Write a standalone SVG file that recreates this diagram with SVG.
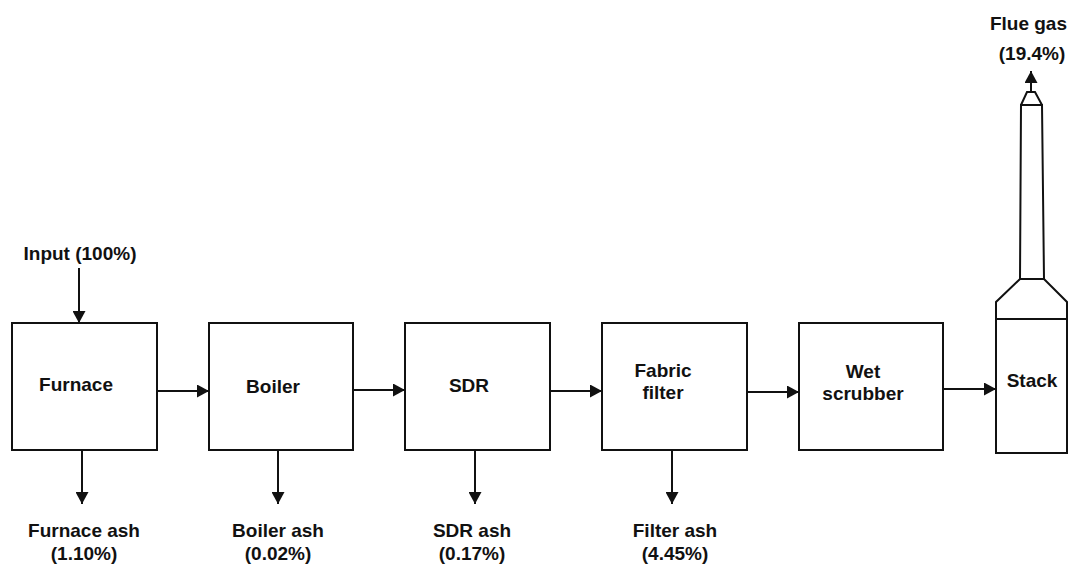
<svg xmlns="http://www.w3.org/2000/svg" width="1069" height="564" viewBox="0 0 1069 564">
<style>
.box{fill:#fff;stroke:#111;stroke-width:2}
.ln{fill:none;stroke:#111;stroke-width:2;stroke-linejoin:miter}
.t{font-family:"Liberation Sans",Arial,sans-serif;font-weight:bold;font-size:19px;fill:#111;text-anchor:middle}
.c{stroke:#111;stroke-width:2;fill:none;marker-end:url(#ah)}
</style>
<defs>
<marker id="ah" markerUnits="userSpaceOnUse" markerWidth="13" markerHeight="13" refX="12" refY="6.5" orient="auto">
<path d="M0,0 L12,6.5 L0,13 z" fill="#111"/>
</marker>
</defs>
<rect width="1069" height="564" fill="#fff"/>
<g id="furnace"><rect class="box" x="12" y="323" width="145" height="127"/><text class="t" x="76" y="391">Furnace</text></g>
<g id="boiler"><rect class="box" x="209" y="323" width="144" height="127"/><text class="t" x="273" y="393">Boiler</text></g>
<g id="sdr"><rect class="box" x="405" y="323" width="145" height="127"/><text class="t" x="469" y="392">SDR</text></g>
<g id="fabric"><rect class="box" x="602" y="323" width="145" height="127"/><text class="t" x="663" y="376.5">Fabric</text><text class="t" x="663" y="399">filter</text></g>
<g id="wet"><rect class="box" x="799" y="323" width="144" height="127"/><text class="t" x="863" y="378">Wet</text><text class="t" x="863" y="400">scrubber</text></g>
<g id="stack">
<rect class="box" x="996" y="319" width="71" height="134"/>
<path class="ln" d="M996,319 L996,302 L1020,279 L1044,279 L1067,302 L1067,319"/>
<path class="ln" d="M1020,279 L1021,105 L1042,105 L1044,279"/>
<path class="ln" d="M1021,105 L1027,92 L1035,92 L1042,105"/>
<text class="t" x="1032" y="387">Stack</text>
</g>
<g id="labels">
<text class="t" x="80" y="260">Input (100%)</text>
<text class="t" x="84" y="537">Furnace ash</text><text class="t" x="84" y="560">(1.10%)</text>
<text class="t" x="278" y="537">Boiler ash</text><text class="t" x="278" y="560">(0.02%)</text>
<text class="t" x="472" y="537">SDR ash</text><text class="t" x="472" y="560">(0.17%)</text>
<text class="t" x="675" y="537">Filter ash</text><text class="t" x="675" y="560">(4.45%)</text>
<text class="t" x="1067" y="30" style="text-anchor:end">Flue gas</text><text class="t" x="1032" y="60">(19.4%)</text>
</g>
<g id="connectors">
<line class="c" x1="157" y1="391" x2="209" y2="391"/>
<line class="c" x1="353" y1="390" x2="405" y2="390"/>
<line class="c" x1="550" y1="391" x2="602" y2="391"/>
<line class="c" x1="747" y1="392" x2="799" y2="392"/>
<line class="c" x1="943" y1="389" x2="996" y2="389"/>
<line class="c" x1="79" y1="268" x2="79" y2="323"/>
<line class="c" x1="82" y1="450" x2="82" y2="504"/>
<line class="c" x1="278" y1="450" x2="278" y2="504"/>
<line class="c" x1="475" y1="450" x2="475" y2="504"/>
<line class="c" x1="672" y1="450" x2="672" y2="504"/>
<line class="c" x1="1031" y1="92" x2="1031" y2="71"/>
</g>
</svg>
